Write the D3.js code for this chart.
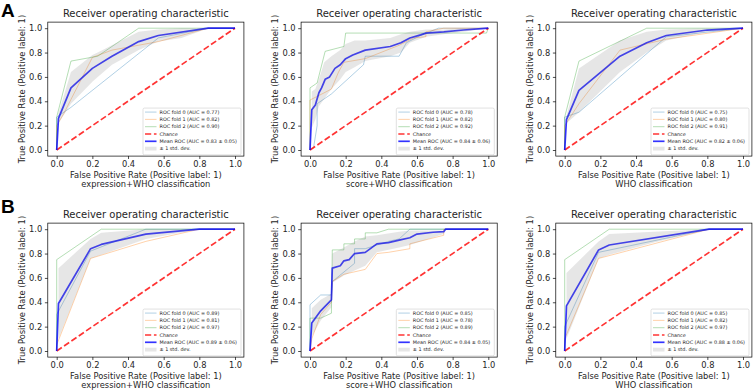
<!DOCTYPE html>
<html>
<head>
<meta charset="utf-8">
<script src="https://cdn.jsdelivr.net/npm/d3@7"></script>
<style>
  body { margin: 0; background: #fff; }
  svg { display: block; }
</style>
</head>
<body>
<div id="chart"></div>
<script>
var fontFamily = "DejaVu Sans";
var titleText = "Receiver operating characteristic";
var xTitle = "False Positive Rate (Positive label: 1)";
var yTitle = "True Positive Rate (Positive label: 1)";
var tickValues = [0, 0.2, 0.4, 0.6, 0.8, 1.0];
var panelLetters = ["A", "B"];
var subTitles = ["expression+WHO classification", "score+WHO classification", "WHO classification"];

// ---------------------------//
//   DATA  (x = FPR, y = TPR) //
// ---------------------------//

// A / expression+WHO
var aExprFold0 = [[0,0],[0,0.27],[0.08,0.35],[0.57,0.92],[0.85,1],[1,1]];
var aExprFold1 = [[0,0],[0,0.2],[0.04,0.3],[0.2,0.76],[0.31,0.82],[0.57,0.89],[0.85,1],[1,1]];
var aExprFold2 = [[0,0],[0,0.27],[0.08,0.73],[0.23,0.77],[0.46,1],[1,1]];
var aExprMean  = [[0,0],[0.01,0.26],[0.08,0.51],[0.2,0.67],[0.31,0.77],[0.46,0.89],[0.57,0.94],[0.85,1],[1,1]];
var aExprBand  = [[0.01,0.22,0.3],[0.08,0.38,0.64],[0.2,0.56,0.78],[0.23,0.6,0.8],[0.31,0.7,0.86],[0.46,0.82,0.97],[0.57,0.89,0.99],[0.7,0.92,1],[0.85,1,1],[1,1,1]];
var aExprAuc   = ["0.77", "0.82", "0.90", "0.83 ± 0.05"];

// A / score+WHO
var aScoreFold0 = [[0,0],[0.02,0.02],[0.04,0.2],[0.04,0.38],[0.12,0.46],[0.3,0.7],[0.31,0.77],[0.5,0.77],[0.54,0.88],[0.62,0.94],[0.72,1],[1,1]];
var aScoreFold1 = [[0,0],[0,0.41],[0.04,0.44],[0.12,0.5],[0.16,0.64],[0.19,0.72],[0.31,0.75],[0.5,0.86],[0.58,0.92],[0.65,0.93],[0.65,0.97],[0.75,1],[1,1]];
var aScoreFold2 = [[0,0],[0,0.51],[0.04,0.55],[0.085,0.81],[0.19,0.85],[0.2,0.96],[0.99,0.96],[1,1]];
var aScoreMean  = [[0,0],[0.01,0.33],[0.03,0.37],[0.05,0.47],[0.065,0.51],[0.085,0.58],[0.11,0.6],[0.14,0.67],[0.17,0.7],[0.2,0.75],[0.24,0.78],[0.31,0.82],[0.45,0.85],[0.51,0.88],[0.56,0.92],[0.62,0.945],[0.65,0.96],[0.75,0.97],[0.86,0.985],[1,1]];
var aScoreBand  = [[0.01,0.18,0.48],[0.03,0.25,0.5],[0.05,0.36,0.58],[0.08,0.42,0.72],[0.12,0.5,0.77],[0.17,0.58,0.82],[0.2,0.64,0.87],[0.25,0.68,0.9],[0.31,0.73,0.9],[0.45,0.77,0.92],[0.51,0.8,0.95],[0.56,0.88,0.97],[0.65,0.93,0.99],[0.75,0.95,0.99],[0.86,0.97,1],[1,1,1]];
var aScoreAuc   = ["0.78", "0.82", "0.92", "0.84 ± 0.06"];

// A / WHO
var aWhoFold0 = [[0,0],[0,0.27],[0.08,0.31],[0.57,0.93],[1,1]];
var aWhoFold1 = [[0,0],[0,0.2],[0.08,0.38],[0.31,0.82],[0.57,0.91],[1,1]];
var aWhoFold2 = [[0,0],[0,0.27],[0.08,0.73],[0.46,1],[1,1]];
var aWhoMean  = [[0,0],[0.01,0.25],[0.08,0.49],[0.31,0.77],[0.46,0.88],[0.57,0.94],[0.8,0.985],[1,1]];
var aWhoBand  = [[0.01,0.22,0.28],[0.08,0.31,0.67],[0.31,0.64,0.9],[0.46,0.8,0.97],[0.57,0.9,0.99],[0.8,0.97,1],[1,1,1]];
var aWhoAuc   = ["0.75", "0.80", "0.91", "0.82 ± 0.06"];

// B / expression+WHO
var bExprFold0 = [[0,0],[0,0.3],[0.19,0.82],[0.5,1],[1,1]];
var bExprFold1 = [[0,0],[0,0.05],[0.19,0.76],[0.5,0.9],[0.8,1],[1,1]];
var bExprFold2 = [[0,0],[0,0.75],[0.25,1],[1,1]];
var bExprMean  = [[0,0],[0.01,0.39],[0.19,0.84],[0.25,0.875],[0.5,0.96],[0.8,1],[1,1]];
var bExprBand  = [[0.01,0.1,0.68],[0.19,0.76,0.92],[0.25,0.79,0.97],[0.5,0.92,1],[0.8,1,1],[1,1,1]];
var bExprAuc   = ["0.89", "0.81", "0.97", "0.89 ± 0.06"];

// B / score+WHO
var bScoreFold0 = [[0,0],[0,0.38],[0.06,0.46],[0.12,0.46],[0.125,0.57],[0.25,0.72],[0.25,0.84],[0.31,0.84],[0.44,0.9],[0.5,0.92],[0.56,1],[1,1]];
var bScoreFold1 = [[0,0],[0.01,0.1],[0.06,0.3],[0.12,0.4],[0.125,0.57],[0.19,0.63],[0.31,0.67],[0.375,0.8],[0.44,0.81],[0.56,0.84],[0.56,0.88],[0.75,0.95],[0.75,1],[1,1]];
var bScoreFold2 = [[0,0],[0,0.27],[0.06,0.27],[0.12,0.31],[0.125,0.83],[0.19,0.83],[0.19,0.88],[0.25,0.88],[0.25,0.92],[0.31,0.92],[0.31,0.97],[0.375,0.97],[0.44,1],[1,1]];
var bScoreMean  = [[0,0],[0.01,0.23],[0.06,0.33],[0.12,0.42],[0.125,0.68],[0.17,0.7],[0.19,0.74],[0.22,0.75],[0.25,0.8],[0.31,0.81],[0.375,0.88],[0.44,0.89],[0.5,0.91],[0.56,0.93],[0.6,0.96],[0.69,0.975],[0.75,0.98],[0.76,1],[1,1]];
var bScoreBand  = [[0.01,0.12,0.35],[0.06,0.25,0.42],[0.12,0.36,0.47],[0.125,0.56,0.8],[0.19,0.62,0.85],[0.25,0.66,0.9],[0.31,0.7,0.94],[0.375,0.81,0.95],[0.5,0.85,0.98],[0.56,0.87,0.99],[0.75,0.96,0.99],[0.76,1,1],[1,1,1]];
var bScoreAuc   = ["0.85", "0.78", "0.89", "0.84 ± 0.05"];

// B / WHO
var bWhoFold0 = [[0,0],[0,0.2],[0.19,0.81],[0.81,1],[1,1]];
var bWhoFold1 = [[0,0],[0,0.1],[0.19,0.76],[0.81,1],[1,1]];
var bWhoFold2 = [[0,0],[0,0.75],[0.25,1],[1,1]];
var bWhoMean  = [[0,0],[0.01,0.37],[0.19,0.83],[0.25,0.87],[0.81,1],[1,1]];
var bWhoBand  = [[0.01,0.1,0.64],[0.19,0.76,0.9],[0.25,0.79,0.96],[0.5,0.89,0.98],[0.81,1,1],[1,1,1]];
var bWhoAuc   = ["0.85", "0.82", "0.97", "0.88 ± 0.06"];

var chance = [[0,0],[1,1]];

var panels = [
  {row: 0, col: 0, folds: [aExprFold0, aExprFold1, aExprFold2], mean: aExprMean, band: aExprBand, auc: aExprAuc},
  {row: 0, col: 1, folds: [aScoreFold0, aScoreFold1, aScoreFold2], mean: aScoreMean, band: aScoreBand, auc: aScoreAuc},
  {row: 0, col: 2, folds: [aWhoFold0, aWhoFold1, aWhoFold2], mean: aWhoMean, band: aWhoBand, auc: aWhoAuc},
  {row: 1, col: 0, folds: [bExprFold0, bExprFold1, bExprFold2], mean: bExprMean, band: bExprBand, auc: bExprAuc},
  {row: 1, col: 1, folds: [bScoreFold0, bScoreFold1, bScoreFold2], mean: bScoreMean, band: bScoreBand, auc: bScoreAuc},
  {row: 1, col: 2, folds: [bWhoFold0, bWhoFold1, bWhoFold2], mean: bWhoMean, band: bWhoBand, auc: bWhoAuc}
];

// ---------------------------//
//       LAYOUT               //
// ---------------------------//
var width = 753, height = 392;
var colX0 = [56.7, 310, 564.7];   // pixel of FPR = 0
var unitW = 178.3;                 // pixels per unit of FPR
var rowY0 = [150, 351];            // pixel of TPR = 0
var unitH = 121.8;
var foldColors = ["#1f77b4", "#ff7f0e", "#2ca02c"];

var svg = d3.select("#chart")
  .append("svg")
    .attr("width", width)
    .attr("height", height)
    .attr("font-family", fontFamily);

panels.forEach(function(p) {
  var x0 = colX0[p.col], y0 = rowY0[p.row];
  var x = d3.scaleLinear()
    .domain([-0.05, 1.05])
    .range([x0 - 0.05 * unitW, x0 + 1.05 * unitW]);
  var y = d3.scaleLinear()
    .domain([-0.05, 1.05])
    .range([y0 + 0.05 * unitH, y0 - 1.05 * unitH]);

  var left = x.range()[0], right = x.range()[1];
  var top = y.range()[1], bottom = y.range()[0];

  var g = svg.append("g");

  var line = d3.line()
    .x(function(d) { return x(d[0]); })
    .y(function(d) { return y(d[1]); });

  // folds
  p.folds.forEach(function(f, i) {
    g.append("path")
      .datum(f)
      .attr("d", line)
      .attr("fill", "none")
      .attr("stroke", foldColors[i])
      .attr("stroke-opacity", 0.35)
      .attr("stroke-width", 1);
  });

  // chance
  g.append("path")
    .datum(chance)
    .attr("d", line)
    .attr("fill", "none")
    .attr("stroke", "#ff0000")
    .attr("stroke-opacity", 0.8)
    .attr("stroke-width", 1.7)
    .attr("stroke-dasharray", "6.2,2.7");

  // mean curve
  g.append("path")
    .datum(p.mean)
    .attr("d", line)
    .attr("fill", "none")
    .attr("stroke", "#0000ff")
    .attr("stroke-opacity", 0.8)
    .attr("stroke-width", 1.7)
    .attr("stroke-linejoin", "round");

  // +/- 1 std band
  g.append("path")
    .datum(p.band)
    .attr("d", d3.area()
      .x(function(d) { return x(d[0]); })
      .y0(function(d) { return y(d[1]); })
      .y1(function(d) { return y(d[2]); }))
    .attr("fill", "#808080")
    .attr("fill-opacity", 0.2);

  // axes
  var xAxis = g.append("g")
    .attr("transform", "translate(0," + bottom + ")")
    .call(d3.axisBottom(x).tickValues(tickValues).tickFormat(d3.format(".1f")).tickSize(2.9).tickPadding(2.6));
  var yAxis = g.append("g")
    .attr("transform", "translate(" + left + ",0)")
    .call(d3.axisLeft(y).tickValues(tickValues).tickFormat(d3.format(".1f")).tickSize(2.9).tickPadding(2.6));
  [xAxis, yAxis].forEach(function(a) {
    a.select(".domain").remove();
    a.selectAll("line").attr("stroke", "#000").attr("stroke-width", 0.7);
    a.selectAll("text")
      .attr("font-family", fontFamily)
      .attr("font-size", 8.3)
      .attr("fill", "#262626");
  });

  // frame
  g.append("rect")
    .attr("x", left).attr("y", top)
    .attr("width", right - left).attr("height", bottom - top)
    .attr("fill", "none")
    .attr("stroke", "#000")
    .attr("stroke-width", 0.7);

  // title and labels
  g.append("text")
    .attr("x", (left + right) / 2)
    .attr("y", top - 5.4)
    .attr("text-anchor", "middle")
    .attr("font-size", 10)
    .attr("fill", "#262626")
    .text(titleText);

  g.append("text")
    .attr("x", (left + right) / 2)
    .attr("y", bottom + 22)
    .attr("text-anchor", "middle")
    .attr("font-size", 8.3)
    .attr("fill", "#262626")
    .text(xTitle);
  g.append("text")
    .attr("x", (left + right) / 2)
    .attr("y", bottom + 31.3)
    .attr("text-anchor", "middle")
    .attr("font-size", 8.3)
    .attr("fill", "#262626")
    .text(subTitles[p.col]);

  g.append("text")
    .attr("transform", "translate(" + (left - 23) + "," + ((top + bottom) / 2) + ") rotate(-90)")
    .attr("text-anchor", "middle")
    .attr("font-size", 8.3)
    .attr("fill", "#262626")
    .text(yTitle);

  // ---------------------------//
  //       LEGEND               //
  // ---------------------------//
  var lgW = 98, rowH = 7.3, nRows = 6;
  var lgRight = right - 2.9, lgBottom = bottom - 1.2;
  var lgTop = lgBottom - (nRows - 1) * rowH - 10.3;
  var lgLeft = lgRight - lgW;
  g.append("rect")
    .attr("x", lgLeft).attr("y", lgTop)
    .attr("width", lgW).attr("height", lgBottom - lgTop)
    .attr("rx", 1.5)
    .attr("fill", "#fff").attr("fill-opacity", 0.8)
    .attr("stroke", "#cccccc").attr("stroke-width", 0.6);

  var labels = [
    "ROC fold 0 (AUC = " + p.auc[0] + ")",
    "ROC fold 1 (AUC = " + p.auc[1] + ")",
    "ROC fold 2 (AUC = " + p.auc[2] + ")",
    "Chance",
    "Mean ROC (AUC = " + p.auc[3] + ")",
    "± 1 std. dev."
  ];
  labels.forEach(function(lab, i) {
    var cy = lgTop + 4 + i * rowH;
    var hx0 = lgLeft + 2, hx1 = lgLeft + 13.5;
    if (i < 3) {
      g.append("line").attr("x1", hx0).attr("x2", hx1).attr("y1", cy).attr("y2", cy)
        .attr("stroke", foldColors[i]).attr("stroke-opacity", 0.35).attr("stroke-width", 1);
    } else if (i === 3) {
      g.append("line").attr("x1", hx0).attr("x2", hx1).attr("y1", cy).attr("y2", cy)
        .attr("stroke", "#ff0000").attr("stroke-opacity", 0.8).attr("stroke-width", 1.7)
        .attr("stroke-dasharray", "6.2,2.7");
    } else if (i === 4) {
      g.append("line").attr("x1", hx0).attr("x2", hx1).attr("y1", cy).attr("y2", cy)
        .attr("stroke", "#0000ff").attr("stroke-opacity", 0.8).attr("stroke-width", 1.7);
    } else {
      g.append("rect").attr("x", hx0).attr("y", cy - 1.9).attr("width", hx1 - hx0).attr("height", 3.8)
        .attr("fill", "#808080").attr("fill-opacity", 0.2);
    }
    g.append("text")
      .attr("x", hx1 + 3)
      .attr("y", cy)
      .attr("dy", "0.35em")
      .attr("font-size", 4.9)
      .attr("fill", "#262626")
      .text(lab);
  });
});

// panel letters
panelLetters.forEach(function(l, i) {
  svg.append("text")
    .attr("x", 1)
    .attr("y", i === 0 ? 17 : 213)
    .attr("font-family", "Liberation Sans")
    .attr("font-weight", "bold")
    .attr("font-size", 19)
    .attr("fill", "#000")
    .text(l);
});
</script>
</body>
</html>
